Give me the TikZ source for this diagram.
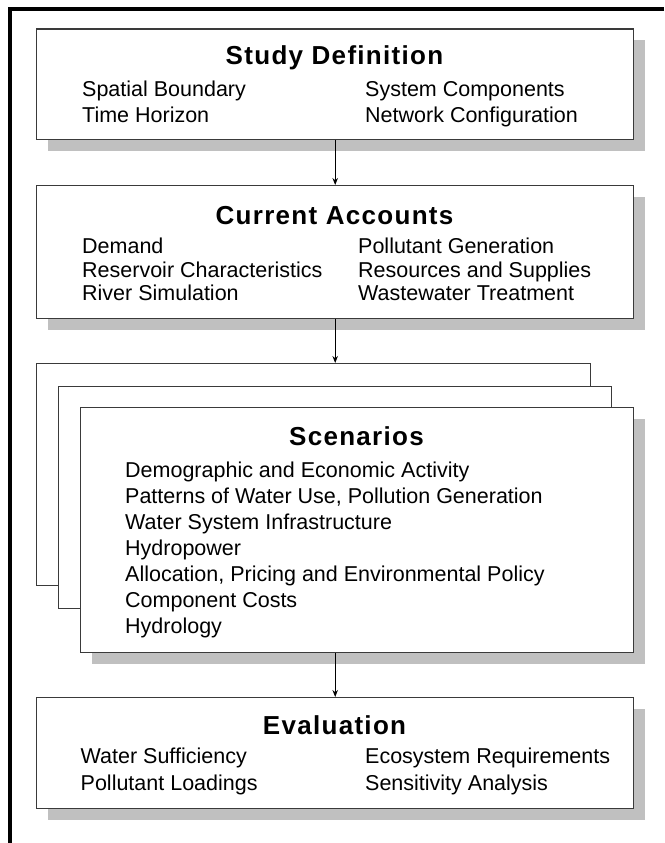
\documentclass[tikz,border=0pt]{standalone}
\usepackage{fontspec}
\setmainfont{Liberation Sans}
\newfontfamily\titlefont[LetterSpace=5]{Liberation Sans}
\usetikzlibrary{shadows,arrows.meta}
\definecolor{boxline}{HTML}{3A3A3A}
\definecolor{shadowgray}{HTML}{C0C0C0}
\begin{document}
\begin{tikzpicture}[x=1pt,y=-1pt,
  box/.style={draw=boxline, line width=1.4pt, fill=white, inner sep=0pt, anchor=north west},
  shad/.style={drop shadow={shadow xshift=11pt, shadow yshift=-11pt, fill=shadowgray, opacity=1}},
  ttl/.style={anchor=base, inner sep=0pt, font=\titlefont\bfseries\fontsize{26}{26}\selectfont},
  itm/.style={anchor=base west, inner sep=0pt, font=\fontsize{21.5}{21.5}\selectfont},
  arr/.style={-{Stealth[length=7pt,width=5.5pt]}, line width=1pt, black}]
\useasboundingbox (0,0) rectangle (664,843);
% outer frame
\draw[line width=4pt, black] (664,9.5) -- (9.5,9.5) -- (9.5,843);

% Study Definition
\node[box,shad,minimum width=597pt,minimum height=110.5pt] (study) at (36,28.5) {};
\node[ttl] (studyT) at (334.5,65) {Study Definition};
\node[itm] (s1) at (82,96) {Spatial Boundary};
\node[itm] (s2) at (82,122) {Time Horizon};
\node[itm] (s3) at (365,96) {System Components};
\node[itm] (s4) at (365,122) {Network Configuration};

% Current Accounts
\node[box,shad,minimum width=597pt,minimum height=133pt] (ca) at (36,185) {};
\node[ttl] (caT) at (334.5,224) {Current Accounts};
\node[itm] (c1) at (82,253) {Demand};
\node[itm] (c2) at (82,277) {Reservoir Characteristics};
\node[itm] (c3) at (82,300.5) {River Simulation};
\node[itm] (c4) at (358,253) {Pollutant Generation};
\node[itm] (c5) at (358,277) {Resources and Supplies};
\node[itm] (c6) at (358,300.5) {Wastewater Treatment};

% Scenarios stack
\node[box,minimum width=554pt,minimum height=222pt] (back) at (36,363) {};
\node[box,minimum width=553pt,minimum height=222pt] (mid) at (58,386) {};
\node[box,shad,minimum width=553pt,minimum height=245pt] (front) at (80,407) {};
\node[ttl] (scT) at (356.5,445) {Scenarios};
\node[itm] (sc1) at (125,477) {Demographic and Economic Activity};
\node[itm] (sc2) at (125,503) {Patterns of Water Use, Pollution Generation};
\node[itm] (sc3) at (125,529) {Water System Infrastructure};
\node[itm] (sc4) at (125,555) {Hydropower};
\node[itm] (sc5) at (125,581) {Allocation, Pricing and Environmental Policy};
\node[itm] (sc6) at (125,607) {Component Costs};
\node[itm] (sc7) at (125,633) {Hydrology};

% Evaluation
\node[box,shad,minimum width=597pt,minimum height=111pt] (ev) at (36,697) {};
\node[ttl] (evT) at (334.5,734) {Evaluation};
\node[itm] (e1) at (80.5,763) {Water Sufficiency};
\node[itm] (e2) at (80.5,790) {Pollutant Loadings};
\node[itm] (e3) at (365,763) {Ecosystem Requirements};
\node[itm] (e4) at (365,790) {Sensitivity Analysis};

% connectors
\draw[arr] (study.south) -- (ca.north);
\draw[arr] (ca.south) -- (ca.south |- back.north);
\draw[arr] (ev.north |- front.south) -- (ev.north);
\end{tikzpicture}
\end{document}
